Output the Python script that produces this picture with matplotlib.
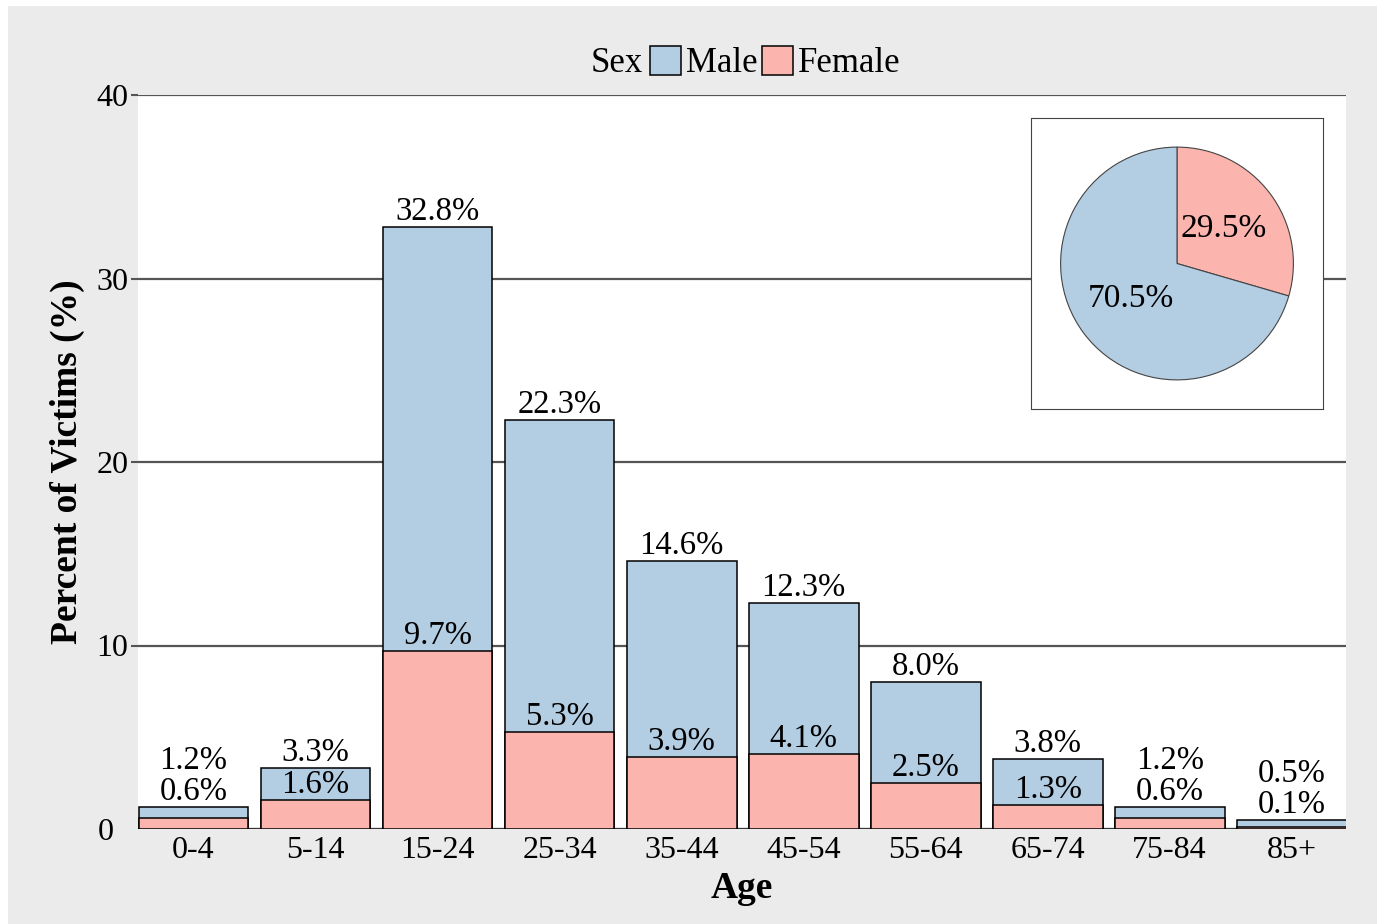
import numpy as np
from matplotlib import pyplot as plt
from matplotlib import transforms
from matplotlib.patches import Patch, Rectangle

plt.rcParams['font.family'] = ['Liberation Serif', 'DejaVu Serif']

# percent of all victims by age group
age_groups = ['0-4', '5-14', '15-24', '25-34', '35-44', '45-54', '55-64', '65-74', '75-84', '85+']
total_pct = [1.2, 3.3, 32.8, 22.3, 14.6, 12.3, 8.0, 3.8, 1.2, 0.5]
female_pct = [0.6, 1.6, 9.7, 5.3, 3.9, 4.1, 2.5, 1.3, 0.6, 0.1]

# overall sex split for the inset
pie_labels = ['Female', 'Male']
pie_pct = [29.5, 70.5]

y_ticks = [0, 10, 20, 30, 40]

MALE_C = '#B3CDE3'
FEMALE_C = '#FBB4AE'
FS = 23.5

fig = plt.figure(figsize=(13.77, 9.24), dpi=100, facecolor='white')
fig.patches.append(Rectangle((8 / 1377, 0), 1, 1 - 6 / 924, transform=fig.transFigure,
                             facecolor='#EBEBEB', edgecolor='none', zorder=-10))

ax = fig.add_axes([138 / 1377, 1 - 829 / 924, (1346 - 138) / 1377, (829 - 95) / 924])
ax.set_facecolor('white')
x = np.arange(len(age_groups))

ax.bar(x, total_pct, width=0.9, color=MALE_C, edgecolor='black', linewidth=1.1, zorder=3)
ax.bar(x, female_pct, width=0.9, color=FEMALE_C, edgecolor='black', linewidth=1.1, zorder=3)

for xi, tot, fem in zip(x, total_pct, female_pct):
    t_lab = f'{tot:.1f}%'
    f_lab = f'{fem:.1f}%'
    if tot - fem < 1.5:
        # too tight: stack both labels above the bar
        ax.annotate(f_lab, (xi, tot), xytext=(0, 0), textcoords='offset points',
                    ha='center', va='bottom', fontsize=FS, zorder=5)
        ax.annotate(t_lab, (xi, tot), xytext=(0, 22.5), textcoords='offset points',
                    ha='center', va='bottom', fontsize=FS, zorder=5)
    else:
        ax.annotate(f_lab, (xi, fem), xytext=(0, 0), textcoords='offset points',
                    ha='center', va='bottom', fontsize=FS, zorder=5)
        ax.annotate(t_lab, (xi, tot), xytext=(0, 0), textcoords='offset points',
                    ha='center', va='bottom', fontsize=FS, zorder=5)

ax.set_xlim(-0.455, len(age_groups) - 0.555)
ax.set_ylim(0, 40)
ax.set_yticks(y_ticks)
ax.set_xticks(x)
ax.set_xticklabels(age_groups)
ax.tick_params(axis='x', length=0, pad=5, labelsize=23)
ax.tick_params(axis='y', length=5, width=1.5, color='#555555', pad=2, labelsize=23)
zero_tick = ax.yaxis.get_major_ticks()[0]
zero_tick.tick1line.set_visible(False)
zero_tick.label1.set_transform(zero_tick.label1.get_transform()
                               + transforms.ScaledTranslation(-15 / 100, 0, fig.dpi_scale_trans))
ax.grid(axis='y', color='#555555', linewidth=1.6, zorder=1)
for s in ax.spines.values():
    s.set_visible(False)
ax.axhline(0, color='#333333', linewidth=1.5, zorder=2)

ax.set_xlabel('Age', fontsize=27, fontweight='bold', labelpad=4)
ax.set_ylabel('Percent of Victims (%)', fontsize=27, fontweight='bold', labelpad=8)

# legend with inline title
fig.text(643 / 1377, 1 - 63 / 924, 'Sex', ha='right', va='center', fontsize=25)
handles = [Patch(facecolor=MALE_C, edgecolor='black', linewidth=1.1, label='Male'),
           Patch(facecolor=FEMALE_C, edgecolor='black', linewidth=1.1, label='Female')]
fig.legend(handles=handles, loc='center left', bbox_to_anchor=(650 / 1377, 1 - 63 / 924),
           ncol=2, frameon=False, fontsize=25, handlelength=0.9, handleheight=0.9,
           handletextpad=0.15, columnspacing=0.1, borderpad=0, borderaxespad=0)

# inset pie
pax = fig.add_axes([1031 / 1377, 1 - 409 / 924, 292 / 1377, 291 / 924])
pax.pie(pie_pct, colors=[FEMALE_C, MALE_C], startangle=90, counterclock=False,
        autopct='%.1f%%', pctdistance=0.5, textprops={'fontsize': 24},
        wedgeprops={'edgecolor': '#444444', 'linewidth': 0.8}, frame=True)
pax.set_frame_on(True)
pax.set_facecolor('white')
pax.set_xlim(-1.25, 1.25)
pax.set_ylim(-1.25, 1.25)
pax.set_aspect('equal')
pax.set_xticks([])
pax.set_yticks([])
for s in pax.spines.values():
    s.set_visible(True)
    s.set_color('#444444')
    s.set_linewidth(0.8)

fig.savefig('out.png', dpi=100, facecolor=fig.get_facecolor())
